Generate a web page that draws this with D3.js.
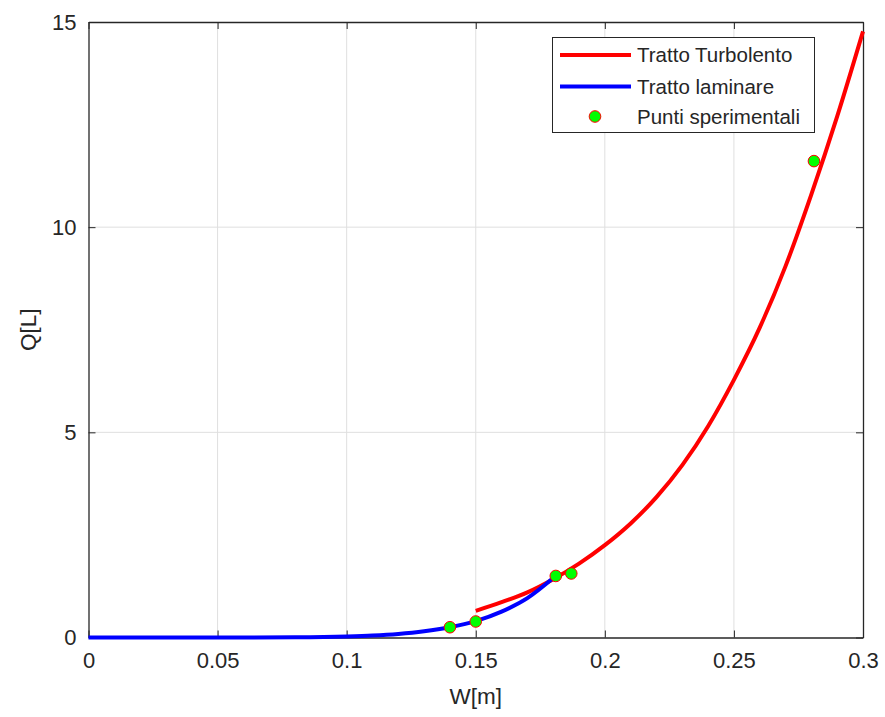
<!DOCTYPE html>
<html>
<head>
<meta charset="utf-8">
<script src="https://cdn.jsdelivr.net/npm/d3@7"></script>
<style>
  body { margin: 0; background: #fff; }
  text { font-family: "Liberation Sans", Arial, Helvetica, sans-serif; fill: #262626; }
</style>
</head>
<body>
<svg id="chart" width="885" height="717"></svg>
<script>
// Q[L] against W[m]: turbulent fit, laminar fit and measured points.

// Turbulent branch.
const wTurb = [0.15, 0.16, 0.17, 0.18, 0.19, 0.20, 0.21, 0.22, 0.23, 0.24, 0.25, 0.26, 0.27, 0.28, 0.29, 0.30];
const qTurb = [0.65, 0.86, 1.10, 1.42, 1.80, 2.25, 2.78, 3.42, 4.20, 5.15, 6.28, 7.55, 9.05, 10.80, 12.70, 14.77];

// Laminar branch.
const wLam = [0, 0.02, 0.04, 0.06, 0.08, 0.10, 0.11, 0.12, 0.13, 0.14, 0.15, 0.16, 0.17, 0.18];
const qLam = [0, 0, 0, 0.001, 0.005, 0.024, 0.046, 0.085, 0.15, 0.25, 0.40, 0.63, 0.96, 1.45];

// Measured points.
const wExp = [0.140, 0.150, 0.181, 0.187, 0.281];
const qExp = [0.25, 0.39, 1.50, 1.56, 11.61];

const xTicks = [0, 0.05, 0.1, 0.15, 0.2, 0.25, 0.3];
const yTicks = [0, 5, 10, 15];
const legendLabels = ["Tratto Turbolento", "Tratto laminare", "Punti sperimentali"];

const AXIS_COLOR = "#262626";
const GRID_COLOR = "#dfdfdf";
const TURB_COLOR = "#ff0000";
const LAM_COLOR = "#0000ff";
const POINT_FILL = "#00ff00";
const LINE_WIDTH = 4;

const svg = d3.select("#chart");
const plotLeft = 88.5, plotRight = 863, plotTop = 22, plotBottom = 637.5;

const x = d3.scaleLinear().domain([0, 0.3]).range([plotLeft, plotRight]);
const y = d3.scaleLinear().domain([0, 15]).range([plotBottom, plotTop]);

// Grid lines.
const grid = svg.append("g");
grid.selectAll("line.gx").data(xTicks.slice(1, -1)).join("line")
  .attr("x1", d => x(d)).attr("x2", d => x(d))
  .attr("y1", plotTop).attr("y2", plotBottom)
  .attr("stroke", GRID_COLOR).attr("stroke-width", 1);
grid.selectAll("line.gy").data(yTicks.slice(1, -1)).join("line")
  .attr("y1", d => y(d)).attr("y2", d => y(d))
  .attr("x1", plotLeft).attr("x2", plotRight)
  .attr("stroke", GRID_COLOR).attr("stroke-width", 1);

// Axes with inward ticks, box on all four sides.
const fmt = d => String(d);
const TICK = 7;
const axisStyle = (g) => {
  g.select(".domain").attr("stroke", AXIS_COLOR).attr("stroke-width", 1.3);
  g.selectAll(".tick line").attr("stroke", AXIS_COLOR).attr("stroke-width", 1);
  g.selectAll("text").attr("fill", AXIS_COLOR).style("font-size", "22px");
};
svg.append("g").attr("transform", `translate(0,${plotBottom})`)
  .call(d3.axisBottom(x).tickValues(xTicks).tickFormat(fmt).tickSizeInner(-TICK).tickSizeOuter(0).tickPadding(15))
  .call(axisStyle);
svg.append("g").attr("transform", `translate(0,${plotTop})`)
  .call(d3.axisTop(x).tickValues(xTicks).tickFormat("").tickSizeInner(-TICK).tickSizeOuter(0))
  .call(axisStyle);
svg.append("g").attr("transform", `translate(${plotLeft},0)`)
  .call(d3.axisLeft(y).tickValues(yTicks).tickFormat(fmt).tickSizeInner(-TICK).tickSizeOuter(0).tickPadding(12))
  .call(axisStyle);
svg.append("g").attr("transform", `translate(${plotRight},0)`)
  .call(d3.axisRight(y).tickValues(yTicks).tickFormat("").tickSizeInner(-TICK).tickSizeOuter(0))
  .call(axisStyle);

// Axis labels.
svg.append("text").attr("x", (plotLeft + plotRight) / 2).attr("y", 704)
  .attr("text-anchor", "middle").style("font-size", "22.5px").text("W[m]");
svg.append("text").attr("transform", `translate(36,${(plotTop + plotBottom) / 2}) rotate(-90)`)
  .attr("text-anchor", "middle").style("font-size", "22.5px").text("Q[L]");

// Curves.
const line = d3.line().x(d => x(d[0])).y(d => y(d[1])).curve(d3.curveMonotoneX);
svg.append("path").datum(d3.zip(wTurb, qTurb)).attr("d", line)
  .attr("fill", "none").attr("stroke", TURB_COLOR).attr("stroke-width", LINE_WIDTH);
svg.append("path").datum(d3.zip(wLam, qLam)).attr("d", line)
  .attr("fill", "none").attr("stroke", LAM_COLOR).attr("stroke-width", LINE_WIDTH);

// Measured points.
svg.append("g").selectAll("circle").data(d3.zip(wExp, qExp)).join("circle")
  .attr("cx", d => x(d[0])).attr("cy", d => y(d[1])).attr("r", 5.8)
  .attr("fill", POINT_FILL).attr("stroke", TURB_COLOR).attr("stroke-width", 1);

// Legend.
const lg = svg.append("g");
lg.append("rect").attr("x", 552.5).attr("y", 37.5).attr("width", 262).attr("height", 95)
  .attr("fill", "#fff").attr("stroke", AXIS_COLOR).attr("stroke-width", 1);
const rowY = [55, 86.5, 116.5];
legendLabels.forEach((label, i) => {
  if (i < 2) {
    lg.append("line").attr("x1", 560).attr("x2", 631).attr("y1", rowY[i]).attr("y2", rowY[i])
      .attr("stroke", i === 0 ? TURB_COLOR : LAM_COLOR).attr("stroke-width", LINE_WIDTH);
  } else {
    lg.append("circle").attr("cx", 595).attr("cy", rowY[i]).attr("r", 5.8)
      .attr("fill", POINT_FILL).attr("stroke", TURB_COLOR).attr("stroke-width", 1);
  }
  lg.append("text").attr("x", 637).attr("y", rowY[i]).attr("dy", "0.35em")
    .style("font-size", "20.5px").text(label);
});
</script>
</body>
</html>
